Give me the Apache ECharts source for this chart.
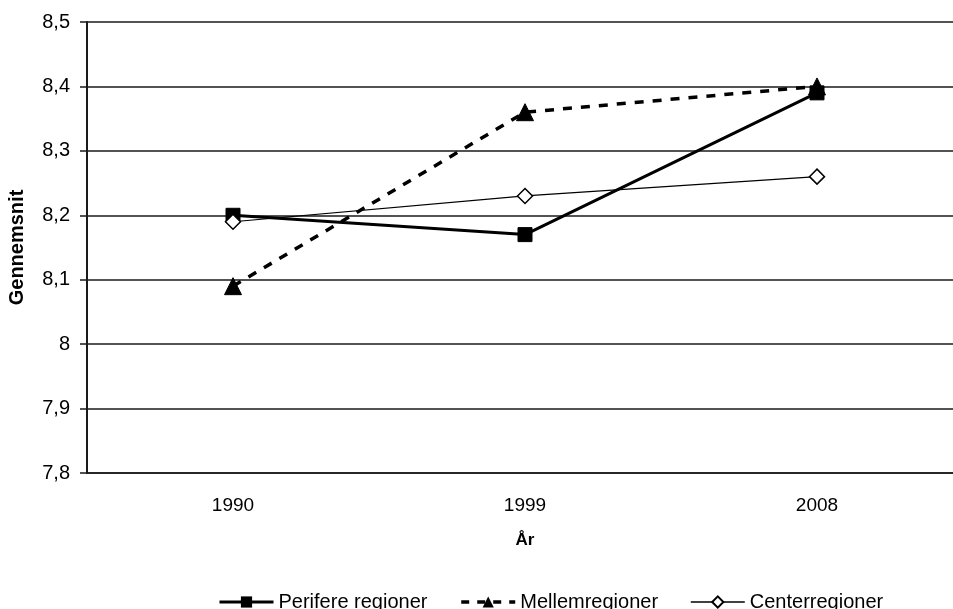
<!DOCTYPE html>
<html>
<head>
<meta charset="utf-8">
<script src="https://cdn.jsdelivr.net/npm/echarts@6/dist/echarts.min.js"></script>
<style>html,body{margin:0;padding:0;background:#fff}#c{width:953px;height:609px}</style>
</head>
<body>
<div id="c"></div>
<script>
var categories = ['1990', '1999', '2008'];
var perifere = [8.20, 8.17, 8.39];
var mellem = [8.09, 8.36, 8.40];
var center = [8.19, 8.23, 8.26];
var yMin = 7.8, yMax = 8.5, yStep = 0.1;

var FONT = '"Liberation Sans", Arial, sans-serif';
var chart = echarts.init(document.getElementById('c'), null, {renderer: 'canvas'});
chart.setOption({
  animation: false,
  backgroundColor: '#fff',
  textStyle: {fontFamily: FONT, color: '#000'},
  grid: {left: 87, top: 22, width: 876, height: 451, containLabel: false, outerBoundsMode: 'none'},
  xAxis: {
    type: 'category',
    data: categories,
    boundaryGap: true,
    name: 'År',
    nameLocation: 'middle',
    nameGap: 59,
    nameTextStyle: {fontFamily: FONT, fontSize: 17, fontWeight: 'bold', color: '#000'},
    axisLine: {show: true, lineStyle: {color: '#1a1a1a', width: 1.5}},
    axisTick: {show: false},
    axisLabel: {fontFamily: FONT, fontSize: 19, color: '#000', margin: 23}
  },
  yAxis: {
    type: 'value',
    min: yMin, max: yMax, interval: yStep,
    name: 'Gennemsnit',
    nameLocation: 'middle',
    nameRotate: 90,
    nameGap: 60,
    nameTextStyle: {fontFamily: FONT, fontSize: 20, fontWeight: 'bold', color: '#000'},
    axisLine: {show: true, lineStyle: {color: '#1a1a1a', width: 2}},
    axisTick: {show: true, length: 7, lineStyle: {color: '#1a1a1a', width: 1.5}},
    axisLabel: {
      fontFamily: FONT, fontSize: 20, color: '#000', margin: 17,
      formatter: function (v) { return String(Math.round(v * 10) / 10).replace('.', ','); }
    },
    splitLine: {show: true, lineStyle: {color: '#1a1a1a', width: 1.5}}
  },
  legend: {
    top: 587,
    left: 213,
    itemWidth: 54,
    itemHeight: 14,
    itemGap: 32,
    textStyle: {fontFamily: FONT, fontSize: 20, color: '#000'},
    data: [
      {name: 'Perifere regioner', lineStyle: {width: 3}},
      {name: 'Mellemregioner', lineStyle: {width: 3.5, type: [8, 8]}},
      {name: 'Centerregioner', lineStyle: {width: 1.5}}
    ]
  },
  series: [
    {
      name: 'Perifere regioner', type: 'line', data: perifere,
      symbol: 'rect', symbolSize: 14,
      lineStyle: {color: '#000', width: 3},
      itemStyle: {color: '#000', borderColor: '#000'},
      z: 3
    },
    {
      name: 'Mellemregioner', type: 'line', data: mellem,
      symbol: 'triangle', symbolSize: 17,
      lineStyle: {color: '#000', width: 3.5, type: [9, 9]},
      itemStyle: {color: '#000', borderColor: '#000'},
      z: 4
    },
    {
      name: 'Centerregioner', type: 'line', data: center,
      symbol: 'diamond', symbolSize: 15,
      lineStyle: {color: '#000', width: 1.2},
      itemStyle: {color: '#fff', borderColor: '#000', borderWidth: 1.5},
      z: 5
    }
  ]
});
</script>
</body>
</html>
